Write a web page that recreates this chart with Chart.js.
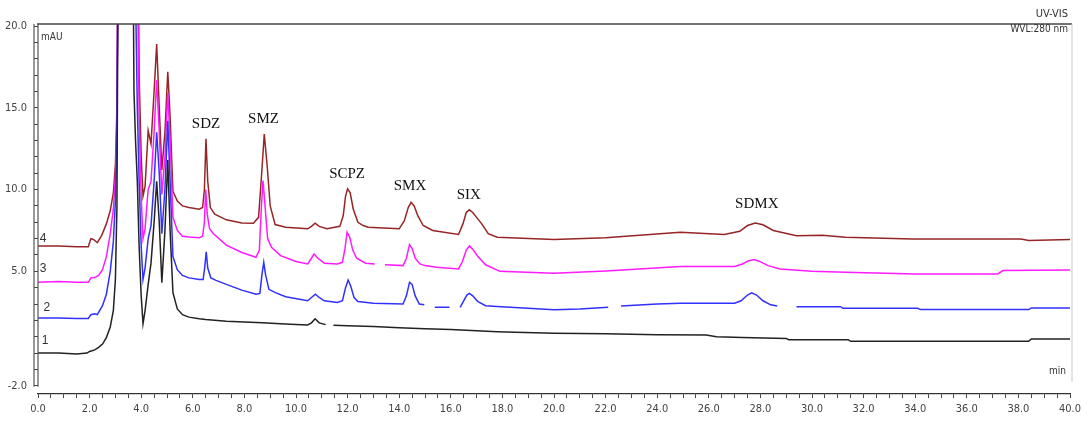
<!DOCTYPE html>
<html>
<head>
<meta charset="utf-8">
<script src="https://cdn.jsdelivr.net/npm/chart.js@4.4.1/dist/chart.umd.min.js"></script>
<style>
  html, body { margin: 0; padding: 0; background: #fff; }
</style>
</head>
<body>
<canvas id="chart" width="1088" height="426"></canvas>
<script>
// Corrida 1 (negro): tiempo (min) y señal (mAU); null = hueco en el trazo
const tiempos1 = [
  0, 0.8, 1.5, 1.9, 2.0, 2.2, 2.35, 2.5, 2.65, 2.8, 2.92, 3.0, 3.06, 3.12, 3.66,
  3.72, 3.78, 3.85, 3.92, 4.0, 4.07, 4.15, 4.27, 4.38, 4.5, 4.6, 4.7, 4.8, 4.92, 5.03,
  5.12, 5.23, 5.4, 5.6, 5.85, 6.25, 6.5, 7.3, 8.0, 8.7, 9.4, 10.0, 10.45, 10.6, 10.74,
  10.9, 11.15, 11.2, 11.45, 12.0, 13.0, 14.0, 15.0, 16.0, 17.0, 17.8, 18.5, 20, 22, 24,
  25.9, 26.3, 27.3, 29.0, 29.1, 31.4, 31.5, 38.4, 38.5, 40
];
const corrida1 = [
  0, 0, -0.05, 0, 0.1, 0.2, 0.35, 0.55, 0.95, 1.6, 2.6, 4.5, 9.0, 30, 30,
  16, 13, 10.5, 6.5, 3.5, 1.8, 2.6, 4.2, 5.5, 8.0, 10.5, 8.0, 4.3, 7.5, 11.8,
  7.5, 3.7, 2.7, 2.35, 2.2, 2.1, 2.05, 1.95, 1.9, 1.86, 1.8, 1.75, 1.72, 1.85, 2.1,
  1.85, 1.74, null, 1.7, 1.67, 1.62, 1.55, 1.49, 1.44, 1.36, 1.3, 1.27, 1.22, 1.18, 1.12,
  1.1, 1.0, 0.95, 0.9, 0.82, 0.82, 0.72, 0.72, 0.86, 0.86
];

// Corrida 2 (azul)
const tiempos2 = [
  0, 0.8, 1.5, 1.95, 2.05, 2.2, 2.3, 2.5, 2.65, 2.8, 2.92, 3.0, 3.06, 3.12, 3.72,
  3.78, 3.85, 3.92, 4.0, 4.07, 4.15, 4.27, 4.38, 4.5, 4.6, 4.7, 4.8, 4.92, 5.03, 5.12,
  5.23, 5.4, 5.6, 5.85, 6.25, 6.4, 6.46, 6.52, 6.58, 6.7, 6.9, 7.3, 7.9, 8.45, 8.6,
  8.68, 8.75, 8.82, 8.95, 9.2, 9.6, 10.45, 10.6, 10.75, 10.9, 11.1, 11.6, 11.8, 11.92, 12.02,
  12.12, 12.25, 12.4, 13.0, 14.15, 14.28, 14.4, 14.5, 14.62, 14.78, 14.97, 15.0, 15.38, 15.95, 16.0,
  16.36, 16.5, 16.62, 16.72, 16.85, 17.05, 17.35, 17.8, 20, 21, 22.1, 22.2, 22.6, 24, 24.9,
  27.0, 27.25, 27.5, 27.66, 27.85, 28.1, 28.4, 28.65, 28.7, 29.4, 31.1, 31.2, 34.1, 34.2, 38.4,
  38.5, 40
];
const corrida2 = [
  2.15, 2.15, 2.12, 2.12, 2.35, 2.4, 2.35, 2.9, 3.6, 5.0, 6.8, 9.3, 13.0, 30, 30,
  22, 15, 10.5, 6.5, 4.5, 5.2, 7.0, 7.8, 10.5, 13.5, 11.0, 7.3, 10.0, 14.2, 10.5,
  5.9, 5.1, 4.75, 4.6, 4.5, 4.5, 5.2, 6.2, 5.2, 4.6, 4.45, 4.2, 3.85, 3.6, 3.65,
  4.8, 5.55, 4.8, 3.9, 3.7, 3.45, 3.2, 3.4, 3.6, 3.4, 3.2, 3.1, 3.2, 4.0, 4.47,
  4.1, 3.4, 3.15, 3.05, 3.0, 3.5, 4.33, 4.2, 3.5, 3.0, 2.95, null, 2.8, 2.8, null,
  2.8, 3.2, 3.55, 3.65, 3.5, 3.15, 2.9, 2.85, 2.65, 2.7, 2.8, null, 2.88, 3.0, 3.05,
  3.05, 3.2, 3.55, 3.68, 3.55, 3.2, 2.95, 2.88, null, 2.84, 2.84, 2.74, 2.74, 2.66, 2.66,
  2.76, 2.76
];

// Corrida 3 (magenta)
const tiempos3 = [
  0, 0.8, 1.5, 1.95, 2.05, 2.2, 2.35, 2.5, 2.65, 2.8, 2.92, 3.0, 3.06, 3.12, 3.78,
  3.85, 3.92, 4.0, 4.07, 4.15, 4.27, 4.38, 4.5, 4.6, 4.7, 4.8, 4.92, 5.03, 5.12, 5.23,
  5.4, 5.6, 5.85, 6.25, 6.38, 6.45, 6.5, 6.56, 6.65, 6.8, 7.3, 7.9, 8.45, 8.58, 8.66,
  8.72, 8.8, 8.9, 9.05, 9.4, 10.0, 10.45, 10.6, 10.7, 10.85, 11.1, 11.6, 11.8, 11.9, 11.98,
  12.08, 12.2, 12.35, 12.7, 13.05, 13.1, 13.45, 14.15, 14.28, 14.4, 14.5, 14.62, 14.8, 15.0, 15.45,
  16.3, 16.45, 16.6, 16.72, 16.85, 17.05, 17.35, 17.9, 20, 22, 24.9, 27.0, 27.3, 27.55, 27.75,
  27.95, 28.3, 28.76, 30.0, 31.3, 34.0, 37.2, 37.4, 40
];
const corrida3 = [
  4.33, 4.38, 4.33, 4.33, 4.6, 4.62, 4.75, 5.1, 5.9, 7.3, 8.8, 10.8, 14.0, 30, 30,
  24, 14.5, 9.5, 7.0, 7.6, 10.0, 10.5, 13.5, 16.7, 13.5, 9.7, 12.0, 15.9, 13.0, 8.3,
  7.5, 7.15, 7.1, 7.05, 7.15, 8.0, 10.0, 8.5, 7.6, 7.3, 6.6, 6.15, 5.86, 6.3, 9.0,
  10.55, 9.0, 7.0, 6.47, 5.96, 5.6, 5.45, 5.8, 6.06, 5.8, 5.5, 5.45, 5.55, 6.4, 7.39,
  7.1, 6.3, 5.8, 5.5, 5.45, null, 5.4, 5.35, 5.8, 6.63, 6.4, 5.8, 5.45, 5.35, 5.25,
  5.15, 5.6, 6.3, 6.55, 6.35, 5.9, 5.4, 5.0, 4.88, 5.02, 5.3, 5.3, 5.45, 5.65, 5.72,
  5.62, 5.35, 5.14, 5.0, 4.94, 4.84, 4.84, 5.05, 5.08
];

// Corrida 4 (bordó)
const tiempos4 = [
  0, 0.8, 1.5, 1.95, 2.05, 2.15, 2.3, 2.47, 2.65, 2.8, 2.92, 3.0, 3.06, 3.12, 3.85,
  3.92, 4.0, 4.07, 4.15, 4.27, 4.38, 4.5, 4.6, 4.7, 4.8, 4.92, 5.03, 5.12, 5.23, 5.4,
  5.6, 5.85, 6.25, 6.38, 6.45, 6.51, 6.58, 6.68, 6.85, 7.3, 7.9, 8.35, 8.55, 8.67, 8.77,
  8.88, 9.0, 9.19, 9.6, 10.45, 10.6, 10.74, 10.9, 11.2, 11.7, 11.83, 11.92, 12.0, 12.1, 12.22,
  12.4, 12.6, 12.8, 14.0, 14.2, 14.35, 14.46, 14.58, 14.72, 14.93, 15.3, 16.3, 16.47, 16.6, 16.72,
  16.85, 17.0, 17.2, 17.45, 17.8, 20, 22, 24.9, 26.6, 27.2, 27.5, 27.8, 28.1, 28.5, 28.8,
  29.4, 30.4, 31.3, 33.9, 38.1, 38.4, 40
];
const corrida4 = [
  6.55, 6.55, 6.5, 6.5, 7.0, 6.95, 6.75, 7.2, 7.9, 8.7, 9.8, 11.5, 15.0, 30, 30,
  17, 12, 9.6, 10.2, 13.6, 12.8, 16.0, 18.9, 15.0, 11.2, 13.5, 17.2, 14.5, 9.9, 9.3,
  9.0, 8.9, 8.8, 8.9, 10.0, 13.1, 10.5, 8.9, 8.5, 8.15, 7.95, 7.94, 8.3, 11.0, 13.4,
  11.5, 9.0, 7.86, 7.7, 7.6, 7.75, 7.94, 7.75, 7.6, 7.75, 8.4, 9.6, 10.04, 9.8, 8.8,
  8.0, 7.8, 7.7, 7.6, 8.1, 8.9, 9.22, 9.0, 8.4, 7.8, 7.5, 7.25, 7.9, 8.6, 8.76,
  8.6, 8.3, 7.9, 7.3, 7.08, 6.95, 7.05, 7.39, 7.25, 7.45, 7.8, 7.96, 7.85, 7.5, 7.39,
  7.17, 7.2, 7.08, 6.98, 6.98, 6.88, 6.95
];

const nombresCorridas = ["1", "2", "3", "4"];
const coloresCorridas = ["#222222", "#3030ff", "#ff1aff", "#962626"];
// donde va el número de cada corrida (min, mAU)
const posNumeroT = [0.27, 0.34, 0.2, 0.2];
const posNumeroV = [0.76, 2.8, 5.15, 7.0];

// Picos identificados
const picos = ["SDZ", "SMZ", "SCPZ", "SMX", "SIX", "SDMX"];
const picosT = [6.51, 8.74, 11.98, 14.42, 16.7, 27.86];
const picosV = [14.0, 14.3, 10.96, 10.24, 9.67, 9.12];

// Ejes
const yEtiquetas = [20, 15, 10, 5, -2];
const yTicks = [];
for (let v = -2; v <= 20; v++) yTicks.push(v);
const xTicks = [];
for (let t = 0; t <= 40; t += 0.5) xTicks.push(t);

const FUENTE_ESTRECHA = '"Liberation Sans Narrow", "DejaVu Sans Condensed", Arial, sans-serif';

const marco = {
  id: "marco",
  afterDatasetsDraw(chart) {
    const { ctx, chartArea: a, scales } = chart;
    const xs = scales.x, ys = scales.y;
    const yBase = ys.getPixelForValue(-2);
    ctx.save();
    // marco superior / derecho
    ctx.strokeStyle = "#444";
    ctx.lineWidth = 1.5;
    ctx.beginPath();
    ctx.moveTo(a.left - 1, a.top - 2);
    ctx.lineTo(a.right + 2, a.top - 2);
    ctx.stroke();
    ctx.strokeStyle = "#c8c8c8";
    ctx.lineWidth = 1;
    ctx.beginPath();
    ctx.moveTo(a.right + 2, a.top - 2);
    ctx.lineTo(a.right + 2, yBase - 4);
    ctx.stroke();
    // eje Y doble
    ctx.strokeStyle = "#555";
    ctx.lineWidth = 1.2;
    [a.left - 4, a.left].forEach((x) => {
      ctx.beginPath();
      ctx.moveTo(x, a.top - 2);
      ctx.lineTo(x, yBase + 1);
      ctx.stroke();
    });

    // textos del equipo
    ctx.fillStyle = "#333";
    ctx.textBaseline = "middle";
    ctx.font = "11px " + FUENTE_ESTRECHA;
    ctx.textAlign = "right";
    ctx.fillText("UV-VIS", a.right - 2, a.top - 12);
    ctx.font = "10px " + FUENTE_ESTRECHA;
    ctx.fillText("WVL:280 nm", a.right - 2, a.top + 3);
    ctx.fillText("min", a.right - 4, yBase - 14);
    ctx.textAlign = "left";
    ctx.fillText("mAU", a.left + 3, a.top + 11);

    // número de corrida
    ctx.font = '12px "Liberation Sans", Arial, sans-serif';
    ctx.textAlign = "center";
    nombresCorridas.forEach((n, i) => {
      ctx.fillText(n, xs.getPixelForValue(posNumeroT[i]), ys.getPixelForValue(posNumeroV[i]));
    });

    // nombres de los picos
    ctx.fillStyle = "#111";
    ctx.font = '15px "Liberation Serif", "Times New Roman", serif';
    picos.forEach((p, i) => {
      ctx.fillText(p, xs.getPixelForValue(picosT[i]), ys.getPixelForValue(picosV[i]));
    });
    ctx.restore();
  },
};

const tiempos = [tiempos1, tiempos2, tiempos3, tiempos4];
const series = [corrida1, corrida2, corrida3, corrida4];

new Chart(document.getElementById("chart"), {
  type: "line",
  data: {
    datasets: series.map((serie, i) => ({
      label: nombresCorridas[i],
      data: tiempos[i].map((t, k) => ({ x: t, y: serie[k] })),
      borderColor: coloresCorridas[i],
      borderWidth: 1.5,
      pointRadius: 0,
      tension: 0,
      spanGaps: false,
      clip: { left: 0, top: 2, right: 0, bottom: 0 },
    })),
  },
  options: {
    responsive: false,
    animation: false,
    events: [],
    layout: { padding: { top: 26, right: 18, left: 0, bottom: 0 } },
    plugins: { legend: { display: false }, tooltip: { enabled: false } },
    scales: {
      x: {
        type: "linear",
        min: 0,
        max: 40,
        afterBuildTicks: (s) => { s.ticks = xTicks.map((v) => ({ value: v })); },
        afterFit: (s) => { s.height = 32; },
        border: { display: true, color: "#333", width: 1.3 },
        grid: { drawOnChartArea: false, tickLength: 4, color: "#444" },
        ticks: {
          autoSkip: false,
          maxRotation: 0,
          padding: 5,
          color: "#444",
          font: { family: FUENTE_ESTRECHA, size: 11 },
          callback: (v) => (Math.abs(v % 2) < 1e-9 ? v.toFixed(1) : ""),
        },
      },
      y: {
        type: "linear",
        min: -2.5,
        max: 20,
        afterBuildTicks: (s) => { s.ticks = yTicks.map((v) => ({ value: v })); },
        afterFit: (s) => { s.width = 38; },
        border: { display: false },
        grid: { drawOnChartArea: false, tickLength: 4, color: "#444" },
        ticks: {
          autoSkip: false,
          padding: 7,
          color: "#444",
          font: { family: FUENTE_ESTRECHA, size: 11 },
          callback: (v) => (yEtiquetas.includes(v) ? v.toFixed(1) : ""),
        },
      },
    },
  },
  plugins: [marco],
});
</script>
</body>
</html>
